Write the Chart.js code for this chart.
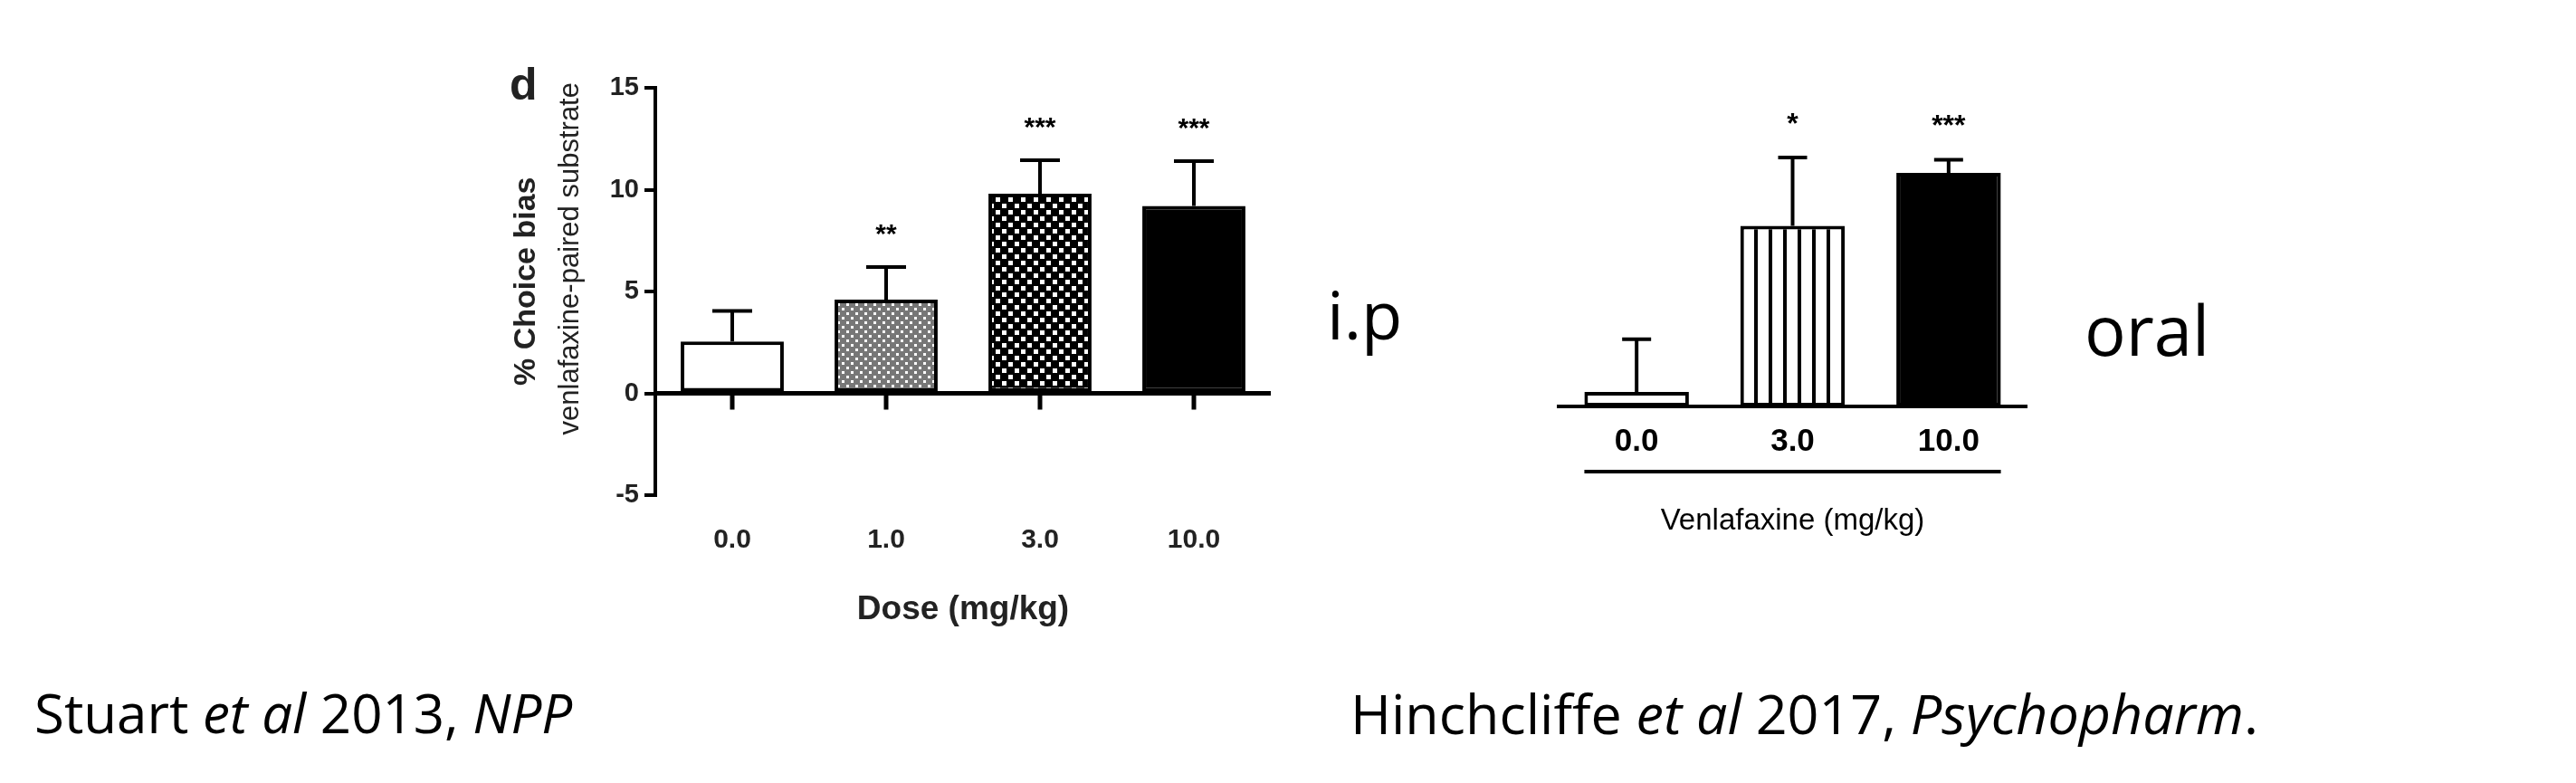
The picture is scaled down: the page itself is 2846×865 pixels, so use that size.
<!DOCTYPE html>
<html><head><meta charset="utf-8">
<script src="https://cdn.jsdelivr.net/npm/chart.js@4"></script>
<style>
body{margin:0;background:#fff;width:2846px;height:865px;position:relative;overflow:hidden;font-family:"Liberation Sans",Arial,sans-serif}
canvas{position:absolute}
.t{position:absolute;color:#000;white-space:nowrap;font-family:"Open Sans","Noto Sans",sans-serif}
</style></head><body>
<canvas id="c1" style="left:0;top:0"></canvas>
<canvas id="c2" style="left:1650px;top:0"></canvas>
<div class="t" style="left:1466px;top:296px;font-size:74px">i.p</div>
<div class="t" style="left:2303px;top:312px;font-size:76px">oral</div>
<div class="t" style="left:38px;top:746px;font-size:60px">Stuart <i>et al</i> 2013, <i>NPP</i></div>
<div class="t" style="left:1492px;top:746px;font-size:61px">Hinchcliffe <i>et al</i> 2017, <i>Psychopharm</i>.</div>
<script>
// ---- Data: Stuart et al 2013 (i.p.) ----
const ipDoses = ["0.0","1.0","3.0","10.0"];
const ipMeans = [2.55, 4.6, 9.8, 9.2];
const ipErrTop = [4.05, 6.2, 11.45, 11.4];
const ipStars = ["", "**", "***", "***"];
const ipTicks = [-5, 0, 5, 10, 15];
// ---- Data: Hinchcliffe et al 2017 (oral) ----
const oralDoses = ["0.0","3.0","10.0"];
const oralMeans = [0.66, 8.2, 10.6];
const oralErrTop = [3.05, 11.3, 11.2];
const oralStars = ["", "*", "***"];

function pat(fn, size){
  const c=document.createElement('canvas');c.width=size;c.height=size;
  const x=c.getContext('2d');fn(x,size);return x.createPattern(c,'repeat');
}
const greyChk = pat((x,s)=>{x.fillStyle='#777';x.fillRect(0,0,s,s);x.fillStyle='#fff';x.fillRect(0,0,3,3);x.fillRect(5,5,3,3);},10);
const bwChk = pat((x,s)=>{x.fillStyle='#000';x.fillRect(0,0,s,s);x.fillStyle='#fff';x.fillRect(1,1,5,5);x.fillRect(8,8,5,5);},14);
const stripes = pat((x,s)=>{x.fillStyle='#fff';x.fillRect(0,0,s,s);x.fillStyle='#000';x.fillRect(0,0,4,s);},16);

function errPlugin(errs, stars, cap, fs){
  return {id:'err'+cap, afterDatasetsDraw(ch){
    const c=ch.ctx, xs=ch.scales.x, ys=ch.scales.y;
    c.save();c.strokeStyle='#000';c.lineWidth=4;c.fillStyle='#000';
    errs.forEach((e,i)=>{
      const meta=ch.getDatasetMeta(0).data[i];
      const x=xs.getPixelForValue(i), y0=meta.y, y1=ys.getPixelForValue(e);
      c.beginPath();c.moveTo(x,y0);c.lineTo(x,y1);c.moveTo(x-cap,y1);c.lineTo(x+cap,y1);c.stroke();
      c.font='bold '+fs+'px "Liberation Sans",Arial';c.textAlign='center';c.textBaseline='bottom';
      if(stars[i]) c.fillText(stars[i],x,y1-20);
    });
    c.restore();
  }};
}

// ---- Chart 1 ----
const c1=document.getElementById('c1');c1.width=1450;c1.height=700;
new Chart(c1,{type:'bar',
  data:{labels:ipDoses,datasets:[{data:ipMeans,backgroundColor:['#fff',greyChk,bwChk,'#000'],borderColor:'#000',borderWidth:4,borderSkipped:false,barPercentage:0.67,categoryPercentage:1}]},
  options:{responsive:false,animation:false,events:[],
    layout:{padding:{left:0,top:97,right:46,bottom:0}},
    plugins:{legend:{display:false},tooltip:{enabled:false}},
    scales:{
      x:{border:{display:false},grid:{display:false},
        ticks:{color:'#222',padding:24,font:{family:'"Liberation Sans",Arial',size:30,weight:'bold'}},
        title:{display:true,text:'Dose (mg/kg)',color:'#222',padding:{top:28},font:{family:'"Liberation Sans",Arial',size:37,weight:'bold'}},
        afterFit(s){s.height=153;}},
      y:{min:-5,max:15,border:{color:'#000',width:4},
        grid:{drawOnChartArea:false,color:'#000',tickLength:12,lineWidth:4},
        afterBuildTicks(s){s.ticks=ipTicks.map(v=>({value:v}));},
        ticks:{color:'#222',padding:6,font:{family:'"Liberation Sans",Arial',size:29,weight:'bold'}},
        afterFit(s){s.width=724;}}
    }},
  plugins:[{id:'zero',afterDatasetsDraw(ch){
      const c=ch.ctx,xs=ch.scales.x,ys=ch.scales.y,y0=ys.getPixelForValue(0);
      c.save();c.strokeStyle='#000';c.lineWidth=5;c.beginPath();
      c.moveTo(ch.chartArea.left,y0);c.lineTo(ch.chartArea.right,y0);
      ipDoses.forEach((d,i)=>{const x=xs.getPixelForValue(i);c.moveTo(x,y0);c.lineTo(x,y0+18);});
      c.stroke();
      c.fillStyle='#222';c.textAlign='center';c.textBaseline='middle';
      c.translate(582,ys.getPixelForValue(5.5));c.rotate(-Math.PI/2);
      c.font='bold 34px "Liberation Sans",Arial';c.fillText('% Choice bias',0,0);
      c.font='31px "Liberation Sans",Arial';c.fillText('venlafaxine-paired substrate',25,48);
      c.restore();
      c.save();c.fillStyle='#222';c.font='bold 50px "Liberation Sans",Arial';c.textBaseline='middle';c.fillText('d',563,96);c.restore();
    }}, errPlugin(ipErrTop, ipStars, 22, 30)]
});

// ---- Chart 2 ----
const c2=document.getElementById('c2');c2.width=650;c2.height=600;
new Chart(c2,{type:'bar',
  data:{labels:oralDoses,datasets:[{data:oralMeans,backgroundColor:['#fff',stripes,'#000'],borderColor:'#000',borderWidth:4,borderSkipped:false,barPercentage:0.67,categoryPercentage:1}]},
  options:{responsive:false,animation:false,events:[],
    layout:{padding:{left:72,top:157,right:61,bottom:0}},
    plugins:{legend:{display:false},tooltip:{enabled:false}},
    scales:{
      x:{border:{color:'#000',width:4},grid:{display:false},
        ticks:{color:'#000',padding:10,font:{family:'"Liberation Sans",Arial',size:35,weight:'bold'}},
        title:{display:true,text:'Venlafaxine (mg/kg)',color:'#000',padding:{top:30},font:{family:'"Liberation Sans",Arial',size:33}},
        afterFit(s){s.height=151;}},
      y:{display:false,min:0,max:12}
    }},
  plugins:[{id:'ul',afterDraw(ch){
      const c=ch.ctx,xs=ch.scales.x,w=(xs.getPixelForValue(1)-xs.getPixelForValue(0))*0.67/2;
      c.save();c.strokeStyle='#000';c.lineWidth=4;c.beginPath();
      c.moveTo(xs.getPixelForValue(0)-w,521);c.lineTo(xs.getPixelForValue(2)+w,521);c.stroke();c.restore();
    }}, errPlugin(oralErrTop, oralStars, 16, 32)]
});
</script>
</body></html>
